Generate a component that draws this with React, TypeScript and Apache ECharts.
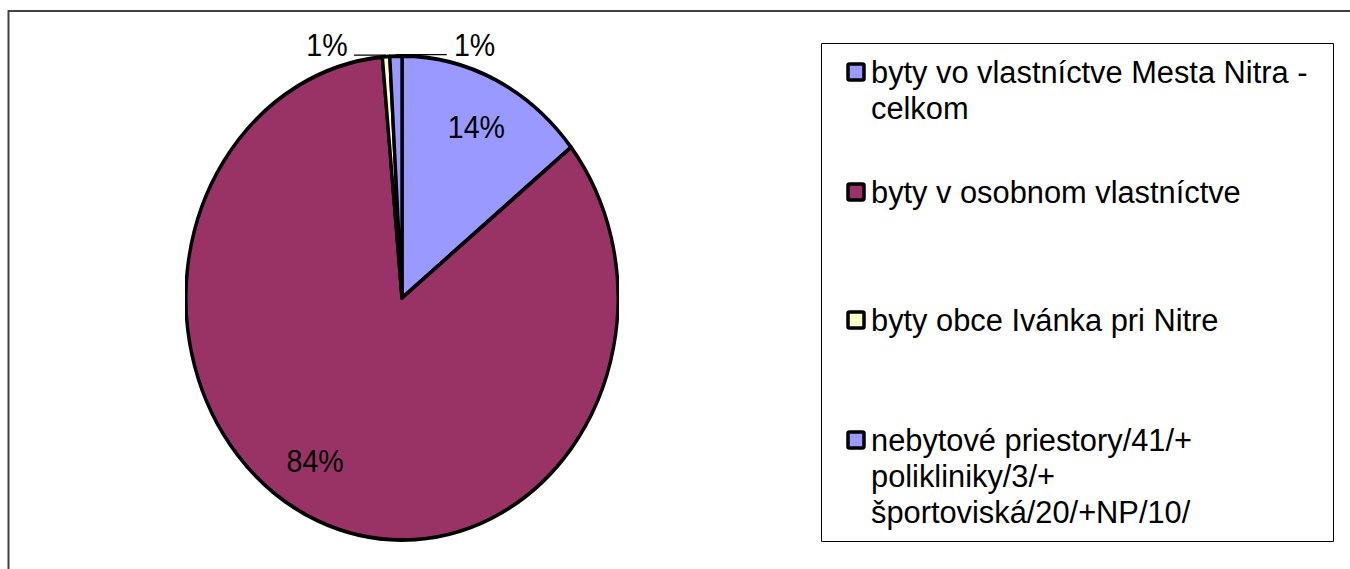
import React, { useEffect, useRef } from "react";
import * as echarts from "echarts";

// ---- data ----
const categories: string[] = [
  "byty vo vlastníctve Mesta Nitra - celkom",
  "byty v osobnom vlastníctve",
  "byty obce Ivánka pri Nitre",
  "nebytové priestory/41/+ polikliniky/3/+ športoviská/20/+NP/10/",
];
const legendLabels: string[] = [
  "byty vo vlastníctve Mesta Nitra -\ncelkom",
  "byty v osobnom vlastníctve",
  "byty obce Ivánka pri Nitre",
  "nebytové priestory/41/+\npolikliniky/3/+\nšportoviská/20/+NP/10/",
];
const values: number[] = [14.3, 84.25, 0.55, 0.9];
const colors: string[] = ["#9999FF", "#993366", "#FFFFCC", "#9999FF"];

// ---- layout ----
const legendRowY: number[] = [72, 192, 320, 440];
const FONT = "'Liberation Sans', Arial, sans-serif";
const PIE_R = 242;
const SCALE_X = 0.893;

export default function App() {
  const mainRef = useRef<HTMLDivElement>(null);
  const pieRef = useRef<HTMLDivElement>(null);

  useEffect(() => {
    const main = echarts.init(mainRef.current!, null, { renderer: "svg" });
    const pie = echarts.init(pieRef.current!, null, { renderer: "svg" });

    const legendEls: any[] = [];
    categories.forEach((name, i) => {
      const y = legendRowY[i];
      legendEls.push({
        type: "rect",
        shape: { x: 848, y: y - 8, width: 16, height: 16, r: 1.5 },
        style: { fill: colors[i], stroke: "#000", lineWidth: 3.5 },
      });
      legendEls.push({
        type: "text",
        x: 871,
        y: y - 18,
        style: {
          text: legendLabels[i],
          fontSize: 30.8,
          fontFamily: FONT,
          fill: "#000",
          lineHeight: 36,
          verticalAlign: "top",
          align: "left",
        },
      });
    });

    main.setOption({
      animation: false,
      graphic: [
        {
          type: "rect",
          shape: { x: 8.5, y: 11, width: 1400, height: 600 },
          style: { fill: "none", stroke: "#404040", lineWidth: 2 },
        },
        {
          type: "rect",
          shape: { x: 821.5, y: 43.5, width: 512, height: 498 },
          style: { fill: "#fff", stroke: "#000", lineWidth: 1 },
        },
        ...legendEls,
      ],
    });

    const pct = (p: any) => Math.round(p.percent) + "%";
    const data = categories.map((name, i) => ({
      name,
      value: values[i],
      itemStyle: { color: colors[i] },
    }));

    pie.setOption({
      animation: false,
      series: [
        {
          type: "pie",
          center: ["50%", "50%"],
          radius: PIE_R,
          startAngle: 90,
          clockwise: true,
          silent: true,
          avoidLabelOverlap: false,
          itemStyle: { borderColor: "#000", borderWidth: 3.8 },
          label: {
            show: true,
            position: "outside",
            formatter: pct,
            fontSize: 32,
            fontFamily: FONT,
            color: "#000",
          },
          labelLine: { show: true, length: 5, length2: 30, lineStyle: { color: "#000", width: 1.2 } },
          labelLayout: (params: any) => {
            const pts = params.labelLinePoints;
            if (!pts || !pts[0]) return {};
            const sx = pts[0][0];
            const sy = pts[0][1] - 1.5;
            if (params.dataIndex === 2) {
              return {
                x: sx - 43,
                y: sy - 10,
                align: "right",
                verticalAlign: "middle",
                labelLinePoints: [
                  [sx, sy],
                  [sx - 2, sy],
                  [sx - 36, sy],
                ],
              };
            }
            if (params.dataIndex === 3) {
              return {
                x: sx + 65,
                y: sy - 10,
                align: "left",
                verticalAlign: "middle",
                labelLinePoints: [
                  [sx, sy],
                  [sx + 2, sy],
                  [sx + 57, sy],
                ],
              };
            }
            return {};
          },
          data: data.map((d, i) => ({
            ...d,
            label: { show: i >= 2 },
            labelLine: { show: i >= 2 },
          })),
        },
        {
          type: "pie",
          center: ["50%", "50%"],
          radius: [PIE_R * 0.56, PIE_R],
          startAngle: 90,
          clockwise: true,
          silent: true,
          avoidLabelOverlap: false,
          itemStyle: { color: "rgba(0,0,0,0)", borderWidth: 0 },
          label: {
            show: true,
            position: "inside",
            formatter: pct,
            fontSize: 32,
            fontFamily: FONT,
            color: "#000",
          },
          labelLine: { show: false },
          labelLayout: (params: any) => {
            if (params.dataIndex === 1) return { dx: -22, dy: -13 };
            return { dy: 2 };
          },
          data: categories.map((name, i) => ({
            name,
            value: values[i],
            itemStyle: { color: "rgba(0,0,0,0)" },
            label: { show: i < 2 },
          })),
        },
      ],
    });

    return () => {
      main.dispose();
      pie.dispose();
    };
  }, []);

  return (
    <div
      style={{
        position: "absolute",
        left: 0,
        top: 0,
        width: 1350,
        height: 569,
        overflow: "hidden",
        background: "#fff",
      }}
    >
      <div ref={mainRef} style={{ position: "absolute", left: 0, top: 0, width: 1350, height: 569 }} />
      <div
        ref={pieRef}
        style={{
          position: "absolute",
          left: 159,
          top: 18,
          width: 486,
          height: 560,
          transform: `scaleX(${SCALE_X})`,
          transformOrigin: "50% 50%",
        }}
      />
    </div>
  );
}
